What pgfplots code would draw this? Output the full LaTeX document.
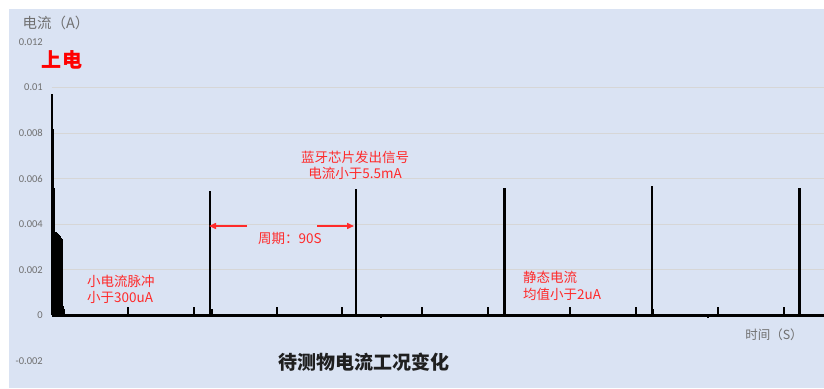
\documentclass[border=0pt]{standalone}
\usepackage{fontspec}
\setmainfont{Carlito}
\newfontfamily\cjk{Noto Sans CJK SC}
\usepackage{pgfplots}
\pgfplotsset{compat=1.18}
\usetikzlibrary{arrows.meta}
\definecolor{bg}{HTML}{DAE3F3}
\definecolor{gridc}{HTML}{D6D6D6}
\definecolor{lab}{HTML}{707070}
\definecolor{ann}{HTML}{FF2A2A}
\begin{document}
\begin{tikzpicture}
\useasboundingbox (-52pt,-27pt) rectangle (772pt,361pt);
\fill[bg] (-43pt,-27pt) rectangle (772pt,352pt);
\begin{axis}[
  at={(0pt,0pt)}, anchor=south west,
  scale only axis, width=772pt, height=319pt,
  xmin=0, xmax=476, ymin=-0.002, ymax=0.012,
  axis line style={draw=none},
  xtick=\empty,
  scaled y ticks=false,
  ytick={-0.002,0,0.002,0.004,0.006,0.008,0.01,0.012},
  yticklabel style={font=\fontsize{10.5}{10.5}\selectfont, text=lab,
    /pgf/number format/fixed, /pgf/number format/precision=3,
    /pgf/number format/assume math mode=true, inner sep=0pt, xshift=-9pt},
  major tick length=0pt,
  extra y ticks={0.002,0.004,0.006,0.008,0.01},
  extra y tick labels={},
  extra y tick style={grid=major, major grid style={gridc, line width=1pt}},
  clip=false,
]
% baseline (current ~0 between pulses)
\addplot[black, line width=2.5pt] coordinates {(0,0) (476,0)};
% power-on burst
\addplot[ycomb, black, line width=2pt] coordinates {
 (0,0.0097) (0.7,0.0082) (1.5,0.0056)
 (2.4,0.00364) (2.8,0.00362) (3.2,0.0036) (3.6,0.00358) (4.0,0.00356)
 (4.4,0.00352) (4.8,0.00348) (5.2,0.00344) (5.6,0.0034) (6.0,0.00335) (6.3,0.0033)
 (6.9,0.0004) (7.4,0.0003)};
% bluetooth signal peaks
\addplot[ycomb, black, line width=2.8pt] coordinates {
 (97.4,0.00548) (187.4,0.00556) (279.2,0.00561) (369.9,0.00566) (461.1,0.00561)};
% small current pulses
\addplot[ycomb, black, line width=2.5pt] coordinates {
 (46.85,0.00035) (87.5,0.00035) (98.6,0.0003) (138.7,0.00035) (178.8,0.00035)
 (228.1,0.00035) (268.8,0.00035) (319.3,0.00035) (360.0,0.00035) (370.5,0.0003)
 (410.5,0.00035) (451.2,0.00035)};
% small dips
\addplot[ycomb, black, line width=2pt] coordinates {(202.8,-0.0001) (404.4,-0.0001)};
\end{axis}
\node[text=lab, font=\cjk\fontsize{14.5}{14.5}\selectfont] at (4pt,338pt) {电流（A）};
\node[red, font=\cjk\bfseries\fontsize{20}{20}\selectfont] at (10pt,301pt) {上电};
\node[text=black!88, font=\cjk\bfseries\fontsize{19}{19}\selectfont] at (312pt,-1pt) {待测物电流工况变化};
\node[text=lab, font=\cjk\fontsize{12.5}{12.5}\selectfont] at (722pt,26pt) {时间（S）};
\node[ann, anchor=west, align=left, inner sep=0pt, font=\cjk\fontsize{13.5}{15.5}\selectfont] at (35pt,71.5pt) {小电流脉冲\\小于300uA};
\node[ann, align=center, inner sep=0pt, font=\cjk\fontsize{13.5}{16}\selectfont] at (303pt,196pt) {蓝牙芯片发出信号\\电流小于5.5mA};
\node[ann, inner sep=0pt, font=\cjk\fontsize{13.5}{13.5}\selectfont] at (238pt,123pt) {周期：90S};
\node[ann, anchor=west, align=left, inner sep=0pt, font=\cjk\fontsize{13.5}{17}\selectfont] at (471pt,75pt) {静态电流\\均值小于2uA};
\draw[ann, line width=1.5pt, -{Triangle[length=7pt,width=6pt]}] (195pt,135pt) -- (157pt,135pt);
\draw[ann, line width=1.5pt, -{Triangle[length=7pt,width=6pt]}] (265pt,135pt) -- (302pt,135pt);
\end{tikzpicture}
\end{document}
